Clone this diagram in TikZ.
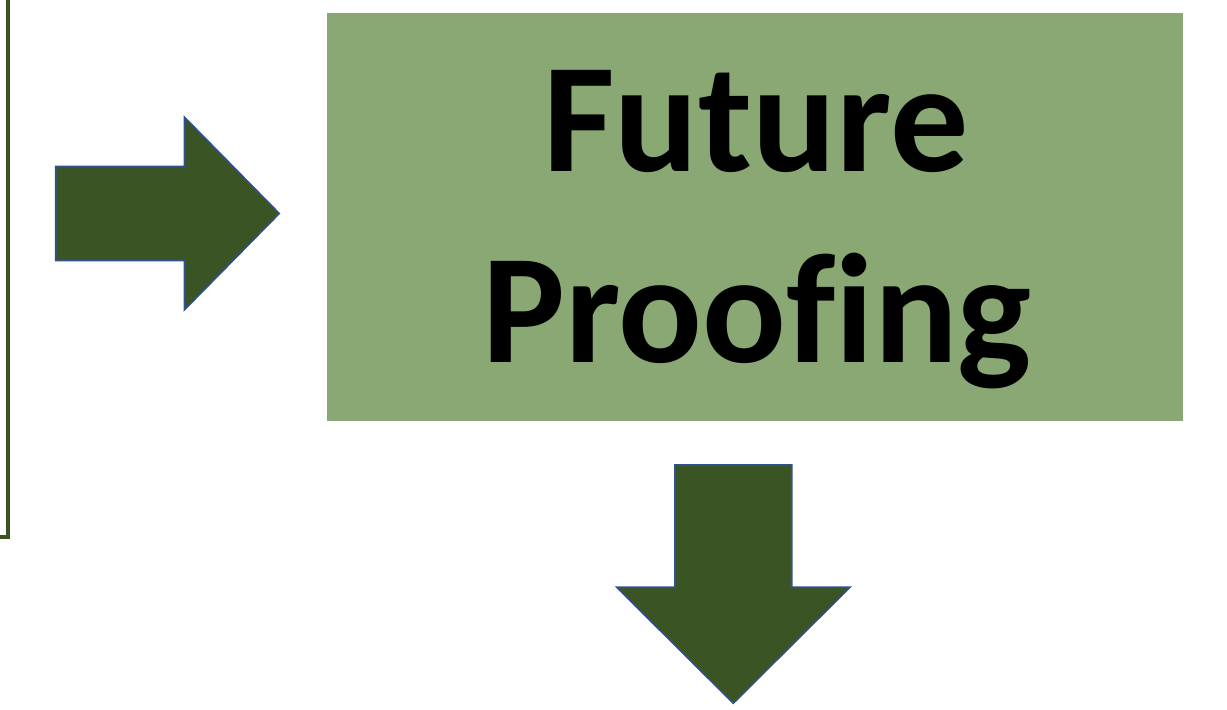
\documentclass[tikz,border=0pt]{standalone}
\usepackage{fontspec}
\setmainfont{Carlito}[Ligatures=NoCommon]
\usepackage{tikz}
\usetikzlibrary{positioning}

\definecolor{leafdark}{HTML}{3A5523}
\definecolor{leaflight}{HTML}{89A874}
\definecolor{edgeblue}{HTML}{2F528F}

\begin{document}
\begin{tikzpicture}[x=0.5pt,y=-0.5pt,
 box/.style={fill=leaflight,draw=none,minimum width=428pt,minimum height=204pt,inner sep=0pt},
 title/.style={anchor=base,inner sep=0pt,font=\bfseries\fontsize{78}{95.5}\selectfont},
 blockarr/.style={fill=leafdark,draw=edgeblue,line width=0.8pt,line join=miter},
 frame/.style={draw=leafdark,line width=2.2pt}]
\useasboundingbox (0,0) rectangle (1227,710);
% edge of the previous panel
\coordinate (ftop) at (8,-5);
\coordinate (fcorner) at (8,537);
\coordinate (fend) at (-5,537);
\draw[frame] (ftop) -- (fcorner) -- (fend);
% main box, one node per text line
\node[box] (future) at (754.7,216.7) {};
\node[title] (futureline) at (756,172) {Future};
\node[title] (proofline) at (757,363) {Proofing};
% block arrows
\draw[blockarr] (55.7,166.5) -- (184.3,166.5) -- (184.3,117) -- (279.3,213.5)
  -- (184.3,310) -- (184.3,260.5) -- (55.7,260.5) -- cycle;
\draw[blockarr] (675,465) -- (791.7,465) -- (791.7,587.3) -- (850,587.3)
  -- (733.3,703.3) -- (616.7,587.3) -- (675,587.3) -- cycle;
\end{tikzpicture}
\end{document}
